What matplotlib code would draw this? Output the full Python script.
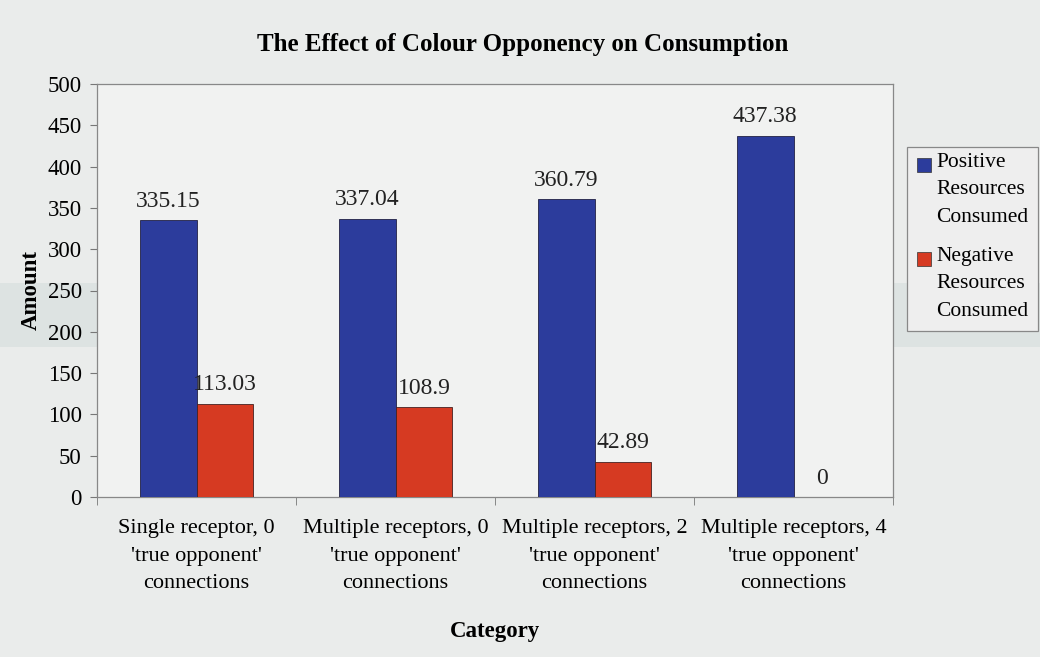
import matplotlib.pyplot as plt
import numpy as np
from matplotlib.patches import Rectangle

categories = ["Single receptor, 0\n'true opponent'\nconnections",
              "Multiple receptors, 0\n'true opponent'\nconnections",
              "Multiple receptors, 2\n'true opponent'\nconnections",
              "Multiple receptors, 4\n'true opponent'\nconnections"]
positive = [335.15, 337.04, 360.79, 437.38]
negative = [113.03, 108.9, 42.89, 0]
yticks = [0, 50, 100, 150, 200, 250, 300, 350, 400, 450, 500]
series_names = ['Positive\nResources\nConsumed', 'Negative\nResources\nConsumed']

plt.rcParams['font.family'] = ['Liberation Serif', 'DejaVu Serif']
plt.rcParams['font.size'] = 16.5

W, H = 1040, 657
fig = plt.figure(figsize=(W / 100, H / 100), dpi=100, facecolor='#eaeceb')


def px(x, y):
    # pixel position (from top-left) -> figure fraction
    return x / W, 1 - y / H


# faded scanned band behind the chart
fig.patches.append(Rectangle(px(0, 347), 1, 64 / H, transform=fig.transFigure,
                             facecolor='#dde3e2', edgecolor='none', zorder=-10))
ax = fig.add_axes([97 / W, 1 - 497 / H, 796 / W, 413 / H])
ax.set_facecolor('#f1f2f1')

x = np.arange(len(categories))
w = 1 / 3.5
b1 = ax.bar(x - w / 2, positive, w, color='#2c3c9c', edgecolor='#222244', linewidth=0.6, zorder=3)
b2 = ax.bar(x + w / 2, negative, w, color='#d63a22', edgecolor='#442222', linewidth=0.6, zorder=3)
ax.bar_label(b1, labels=[f'{v:g}' for v in positive], padding=6, fontsize=17, color='#222222')
ax.bar_label(b2, labels=[f'{v:g}' for v in negative], padding=6, fontsize=17, color='#222222')

ax.set_xlim(-0.5, len(categories) - 0.5)
ax.set_ylim(0, 500)
ax.set_yticks(yticks)
ax.set_xticks(x)
ax.set_xticklabels(categories, linespacing=1.6, fontsize=16)
ax.set_xticks(np.arange(len(categories) + 1) - 0.5, minor=True)
ax.tick_params(axis='x', which='major', length=0, pad=16)
ax.tick_params(axis='x', which='minor', length=6, color='#777777')
ax.tick_params(axis='y', length=5, color='#777777', pad=6)
for s in ax.spines.values():
    s.set_color('#888888')
    s.set_linewidth(0.9)

ax.set_ylabel('Amount', fontweight='bold', labelpad=4)
ax.set_xlabel('Category', fontweight='bold', labelpad=20)
fig.text(*px(523, 45), 'The Effect of Colour Opponency on Consumption',
         ha='center', va='center', fontweight='bold', fontsize=18)

# legend drawn by hand so the colour key sits beside the first line of each entry
fig.patches.append(Rectangle(px(907, 331), 131 / W, 184 / H, transform=fig.transFigure,
                             facecolor='#eeeeee', edgecolor='#888888', linewidth=0.9))
for i, (name, bars) in enumerate(zip(series_names, [b1, b2])):
    top = 153 + i * 94
    fig.patches.append(Rectangle(px(917, top + 19), 14 / W, 14 / H, transform=fig.transFigure,
                                 facecolor=bars.patches[0].get_facecolor(),
                                 edgecolor='#333333', linewidth=0.5))
    fig.text(*px(936, top), name, ha='left', va='top', fontsize=15.5, linespacing=1.6)

fig.savefig('out.png', dpi=100, facecolor=fig.get_facecolor())
